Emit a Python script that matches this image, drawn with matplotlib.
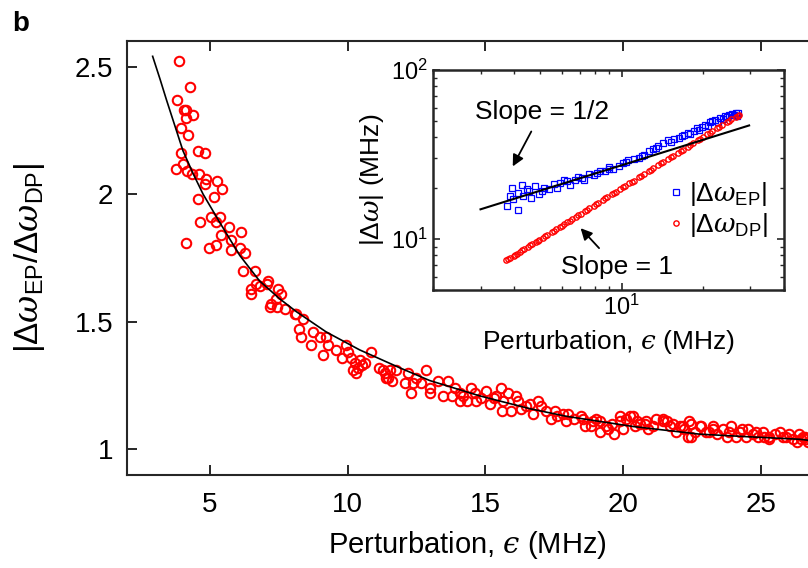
import matplotlib
matplotlib.use("Agg")
import matplotlib.pyplot as plt

plt.rcParams["font.family"] = ["Liberation Sans", "DejaVu Sans"]
plt.rcParams["mathtext.fontset"] = "custom"
plt.rcParams["mathtext.rm"] = "Liberation Sans"
plt.rcParams["mathtext.sf"] = "Liberation Sans"
plt.rcParams["mathtext.it"] = "DejaVu Serif:italic"

# main panel: ratio of splittings vs perturbation (MHz)
eps_main = [
    3.89, 4.27, 3.83, 4.07, 4.15, 4.41, 4.13, 3.97, 4.23, 4.58, 4.84, 3.95, 3.77, 4.02,
    4.18, 4.37, 4.61, 4.85, 4.84, 5.28, 5.46, 5.16, 4.58, 4.66, 5.03, 5.36, 5.22, 4.13,
    5.40, 5.70, 6.14, 4.97, 5.24, 5.79, 5.79, 6.09, 6.27, 6.21, 6.63, 6.48, 6.48, 6.67,
    6.84, 7.11, 7.06, 7.48, 7.57, 7.20, 7.45, 7.42, 7.72, 8.08,
    7.23, 8.14, 8.38, 8.24, 8.32, 8.75, 8.99, 8.69, 9.23, 9.29, 9.11, 9.57, 9.78, 9.93,
    10.02, 10.14, 10.26, 10.44, 10.62, 10.86, 10.20, 10.39, 10.54, 10.32, 11.14, 11.35,
    11.53, 11.38, 11.62, 11.74,
    11.28, 11.47, 12.19, 12.49, 12.86, 12.07, 12.37, 12.31, 12.68, 12.98, 13.28, 13.64,
    13.46, 13.77, 14.06, 14.06, 14.49, 14.61, 14.33, 14.67, 15.01, 15.40, 15.58, 15.82,
    15.64, 15.15, 15.61, 15.94, 16.12, 16.18, 16.48, 14.85,
    16.60, 16.90, 16.72, 17.21, 17.51, 17.39, 17.81, 17.93, 18.48, 18.54, 18.60, 18.84,
    19.14, 19.14, 19.38, 19.43, 19.68, 19.87, 19.87, 20.11, 20.23, 20.35, 20.41, 20.59,
    20.77, 20.84, 21.07, 21.44, 21.44, 21.68, 21.80, 22.04, 22.16, 22.34, 22.40, 22.47,
    22.47, 22.77, 22.83, 23.01, 23.24, 23.25, 23.61, 23.78, 23.85, 24.22, 24.46, 24.52,
    24.70, 25.06, 25.30, 25.30, 25.67, 25.91, 26.15, 26.39, 26.45, 26.51, 26.63,
    17.00, 18.20, 19.60, 20.00, 20.90, 21.20, 21.90, 22.60, 23.40, 23.90, 24.10, 24.90,
    25.50, 26.00, 26.30, 26.70, 24.30, 25.10,
    13.0, 13.9, 14.2, 15.3, 16.3, 17.6, 18.0, 18.9, 19.0, 20.5, 21.6, 22.2, 23.1, 24.8,
    25.8, 26.6,
]
ratio_main = [
    2.52, 2.42, 2.37, 2.33, 2.33, 2.31, 2.30, 2.26, 2.23, 2.17, 2.16, 2.16, 2.10, 2.12,
    2.09, 2.08, 2.08, 2.06, 2.04, 2.05, 2.02, 1.99, 1.98, 1.89, 1.91, 1.91, 1.89, 1.81,
    1.84, 1.87, 1.85, 1.79, 1.80, 1.82, 1.78, 1.79, 1.77, 1.70, 1.70, 1.63, 1.61, 1.65,
    1.64, 1.66, 1.65, 1.63, 1.61, 1.56, 1.56, 1.59, 1.55, 1.53,
    1.57, 1.53, 1.51, 1.47, 1.44, 1.46, 1.44, 1.41, 1.44, 1.41, 1.37, 1.39, 1.36, 1.41,
    1.38, 1.36, 1.34, 1.35, 1.34, 1.38, 1.31, 1.32, 1.33, 1.30, 1.32, 1.30,
    1.31, 1.28, 1.27, 1.31,
    1.31, 1.28, 1.30, 1.28, 1.31, 1.26, 1.26, 1.22, 1.26, 1.22, 1.27, 1.27,
    1.21, 1.21, 1.22, 1.19, 1.24, 1.22, 1.19, 1.19, 1.23, 1.21, 1.24, 1.22,
    1.19, 1.18, 1.15, 1.15, 1.21, 1.19, 1.17, 1.20,
    1.18, 1.19, 1.14, 1.15, 1.15, 1.12, 1.14, 1.11, 1.13, 1.12, 1.09, 1.09,
    1.11, 1.07, 1.09, 1.08, 1.06, 1.11, 1.13, 1.12, 1.13, 1.13, 1.09, 1.10,
    1.10, 1.11, 1.09, 1.11, 1.12, 1.09, 1.10, 1.09, 1.09, 1.05, 1.11, 1.10,
    1.05, 1.09, 1.09, 1.07, 1.08, 1.09, 1.08, 1.05, 1.07, 1.07, 1.05, 1.08,
    1.06, 1.07, 1.05, 1.04, 1.07, 1.05, 1.04, 1.06, 1.04, 1.05, 1.04,
    1.17, 1.12, 1.10, 1.08, 1.08, 1.12, 1.07, 1.07, 1.06, 1.09, 1.05, 1.05,
    1.06, 1.06, 1.03, 1.03, 1.08, 1.05,
    1.24, 1.24, 1.21, 1.20, 1.16, 1.13, 1.14, 1.11, 1.12, 1.11, 1.11, 1.08, 1.07, 1.07,
    1.05, 1.05,
]

# fitted curve
eps_fit = [2.93, 3.2, 3.43, 3.7, 4.03, 4.4, 4.76, 5.36, 6.09, 6.81, 7.54, 8.14, 9.23,
           10.44, 11.89, 12.98, 14.79, 16.6, 17.93, 20.35, 22.77, 24.5, 26.39, 26.8]
ratio_fit = [2.54, 2.45, 2.37, 2.28, 2.17, 2.08, 2.00, 1.89, 1.76, 1.66, 1.59, 1.54, 1.46,
             1.39, 1.32, 1.27, 1.21, 1.16, 1.13, 1.09, 1.06, 1.05, 1.04, 1.035]

# inset: splittings (MHz) vs perturbation, log-log
eps_ep = [3.76, 4.13, 3.85, 3.92, 4.13, 4.27, 4.31, 4.53, 4.63, 4.76, 4.93, 5.14, 5.37,
          5.07, 5.60, 5.76, 6.10, 6.45, 6.27, 6.74, 7.13, 7.23, 7.55, 7.87, 8.34, 8.70,
          8.95, 9.75, 10.6, 11.6, 12.6, 13.7, 14.9, 16.3, 17.7, 19.3, 20.4, 22.2, 24.2,
          26.0, 9.3, 10.1, 11.1, 12.1, 13.1, 14.3, 15.6, 17.0, 18.5, 19.8, 21.2, 23.2,
          25.1, 26.5, 27.0, 3.95, 4.45, 5.9, 6.9, 8.1, 9.0, 10.4, 11.9, 13.4, 15.2,
          16.8, 18.0, 19.0, 20.9, 21.7, 22.7, 23.7, 24.6, 25.6, 26.8]
ep = [15.7, 14.9, 18.1, 20.1, 18.8, 20.8, 18.0, 19.2, 17.4, 20.6, 18.4, 20.1, 19.7,
      19.3, 21.1, 20.1, 22.5, 20.8, 22.0, 22.5, 23.0, 22.3, 24.1, 23.8, 25.2, 25.2,
      25.8, 26.9, 29.5, 30.2, 33.2, 35.4, 38.7, 39.6, 42.4, 44.3, 47.5, 50.8, 53.2,
      54.4, 26.0, 28.0, 29.8, 31.5, 34.0, 37.0, 39.0, 41.0, 43.5, 46.0, 49.0, 52.0,
      54.0, 55.5, 56.0, 17.2, 19.9, 21.5, 23.4, 24.6, 26.8, 28.6, 31.0, 34.8, 37.6,
      40.5, 41.8, 45.2, 46.8, 50.0, 49.5, 51.5, 52.8, 55.0, 53.6]
eps_dp = [3.73, 3.85, 3.98, 4.1, 4.22, 4.35, 4.5, 4.65, 4.8, 4.95, 5.1, 5.3, 5.5, 5.7,
          5.9, 6.1, 6.3, 6.55, 6.8, 7.05, 7.3, 7.6, 7.9, 8.2, 8.5, 8.85, 9.2, 9.55, 9.9,
          10.3, 10.7, 11.1, 11.6, 12.1, 12.6, 13.1, 13.7, 14.3, 14.9, 15.5, 16.2, 16.9,
          17.6, 18.4, 19.2, 20.0, 20.8, 21.7, 22.6, 23.5, 24.5, 25.5, 26.5, 27.2,
          3.79, 4.04, 4.28, 4.58, 4.88, 5.2, 5.6, 6.0, 6.42, 6.92, 7.45, 8.05, 8.68,
          9.37, 10.1, 10.9, 11.85, 12.85, 14.0, 15.2, 16.55, 18.0, 19.6, 21.25, 23.05,
          25.0, 27.0]
dp = [7.5, 7.7, 7.9, 8.2, 8.4, 8.7, 9.0, 9.3, 9.6, 9.9, 10.2, 10.6, 11.0, 11.4,
      11.8, 12.2, 12.6, 13.1, 13.6, 14.1, 14.6, 15.2, 15.8, 16.4, 17.0, 17.7, 18.4, 19.1,
      19.8, 20.6, 21.4, 22.2, 23.2, 24.2, 25.2, 26.2, 27.4, 28.6, 29.8, 31.0, 32.4, 33.8,
      35.2, 36.8, 38.4, 40.0, 41.6, 43.4, 45.2, 47.0, 49.0, 51.0, 53.0, 54.0,
      7.6, 8.1, 8.6, 9.2, 9.7, 10.4, 11.2, 12.0, 12.8, 13.8, 14.9, 16.1, 17.4,
      18.7, 20.2, 21.8, 23.7, 25.7, 28.0, 30.4, 33.1, 36.0, 39.2, 42.5, 46.1,
      50.0, 53.6]
eps_half = [3.0, 29.7]
half_fit = [15.0, 47.0]

red = "#ff0000"
blue = "#0000ff"
spine_col = "#262626"
xlab = "Perturbation, $\\mathit{\u03f5}$ (MHz)"

fig = plt.figure(figsize=(8.08, 5.68), dpi=100)

# ---- main axes ----
ax = fig.add_axes([127 / 808, 93 / 568, 681 / 808, 434 / 568])
ax.plot(eps_main, ratio_main, "o", mfc="none", mec=red, ms=6.8, mew=1.5, zorder=2)
ax.plot(eps_fit, ratio_fit, "-", color="black", lw=1.2, zorder=3)
ax.set_xlim(2, 26.7)
ax.set_ylim(0.9, 2.6)
ax.set_xticks([5, 10, 15, 20, 25])
ax.set_yticks([1, 1.5, 2, 2.5])
ax.set_yticklabels(["1", "1.5", "2", "2.5"])
ax.tick_params(direction="in", length=7, width=1.4, color=spine_col, labelsize=20,
               top=True, right=False)
ax.tick_params(axis="x", pad=12)
ax.tick_params(axis="y", pad=10)
for side in ["left", "bottom", "top"]:
    ax.spines[side].set_linewidth(1.5)
    ax.spines[side].set_color(spine_col)
ax.spines["right"].set_visible(False)
ax.set_xlabel(xlab, fontsize=21, labelpad=8)
ax.set_ylabel(r"$|\Delta\omega_{\mathrm{EP}}/\Delta\omega_{\mathrm{DP}}|$", fontsize=24,
              labelpad=20)

fig.text(12 / 808, 1 - 24 / 568, "b", fontsize=20, fontweight="bold", va="center",
         ha="left")

# ---- inset ----
axi = fig.add_axes([433 / 808, (568 - 290) / 568, 351 / 808, 220 / 568])
axi.set_xscale("log")
axi.set_yscale("log")
axi.plot(eps_ep, ep, "s", mfc="none", mec=blue, ms=4.8, mew=0.9,
         label=r"$|\Delta\omega_{\mathrm{EP}}|$", zorder=2)
axi.plot(eps_dp, dp, "o", mfc="none", mec=red, ms=3.8, mew=1.0,
         label=r"$|\Delta\omega_{\mathrm{DP}}|$", zorder=2)
axi.plot(eps_half, half_fit, "-", color="black", lw=1.5, zorder=3)
axi.set_xlim(2, 40)
axi.set_ylim(5, 100)
axi.tick_params(which="both", direction="in", top=True, right=True, color=spine_col,
                labelsize=17)
axi.tick_params(which="major", length=5, width=1.2)
axi.tick_params(which="minor", length=3, width=1.0, labelbottom=False, labelleft=False)
for s in axi.spines.values():
    s.set_linewidth(1.8)
    s.set_color(spine_col)
axi.set_xlabel(xlab, fontsize=19, labelpad=6)
axi.set_ylabel(r"$|\Delta\omega|$ (MHz)", fontsize=19, labelpad=4)

axi.annotate("Slope = 1/2", xy=(3.95, 26.9), xytext=(5.06, 56.6), fontsize=19,
             ha="center", va="center",
             arrowprops=dict(arrowstyle="-|>", color="black", lw=1.3,
                             mutation_scale=17, shrinkA=4, shrinkB=0))
axi.annotate("Slope = 1", xy=(7.05, 11.6), xytext=(9.58, 6.84), fontsize=19,
             ha="center", va="center",
             arrowprops=dict(arrowstyle="-|>", color="black", lw=1.3,
                             mutation_scale=17, shrinkA=4, shrinkB=0))

axi.legend(loc="lower right", bbox_to_anchor=(1.0, 0.16), frameon=False, fontsize=19,
           handlelength=0.6, handletextpad=0.2, labelspacing=0.1, borderpad=0.1,
           markerscale=1.0)

fig.savefig("out.png", dpi=100)
